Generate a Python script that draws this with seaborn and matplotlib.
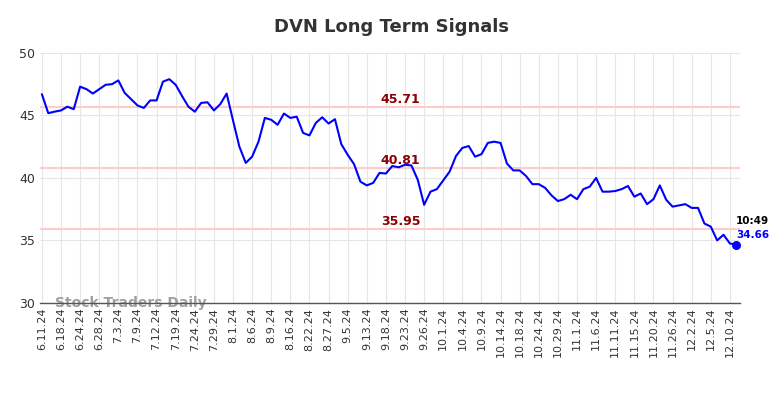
import matplotlib
matplotlib.use("Agg")
import matplotlib.pyplot as plt
import seaborn as sns
import pandas as pd
import numpy as np

prices = [46.7, 45.18, 45.3, 45.4, 45.7, 45.5, 47.3, 47.1, 46.75, 47.1,
          47.45, 47.5, 47.8, 46.8, 46.3, 45.8, 45.6, 46.2, 46.2, 47.7,
          47.9, 47.45, 46.55, 45.7, 45.3, 46.0, 46.05, 45.4, 45.9, 46.75,
          44.6, 42.5, 41.2, 41.7, 42.9, 44.8, 44.65, 44.25, 45.15, 44.8,
          44.9, 43.6, 43.4, 44.4, 44.85, 44.35, 44.7, 42.7, 41.85, 41.1,
          39.7, 39.4, 39.6, 40.4, 40.35, 40.95, 40.85, 41.05, 41.0, 39.85,
          37.85, 38.9, 39.1, 39.8, 40.5, 41.75, 42.4, 42.55, 41.7, 41.9,
          42.8, 42.9, 42.8, 41.15, 40.6, 40.6, 40.15, 39.5, 39.5, 39.2,
          38.6, 38.15, 38.3, 38.65, 38.3, 39.1, 39.3, 40.0, 38.9, 38.9,
          38.95, 39.1, 39.35, 38.5, 38.75, 37.9, 38.3, 39.4, 38.25, 37.7,
          37.8, 37.9, 37.6, 37.6, 36.35, 36.1, 35.0, 35.45, 34.75, 34.66]

tick_labels = ["6.11.24", "6.18.24", "6.24.24", "6.28.24", "7.3.24", "7.9.24",
               "7.12.24", "7.19.24", "7.24.24", "7.29.24", "8.1.24", "8.6.24",
               "8.9.24", "8.16.24", "8.22.24", "8.27.24", "9.5.24", "9.13.24",
               "9.18.24", "9.23.24", "9.26.24", "10.1.24", "10.4.24", "10.9.24",
               "10.14.24", "10.18.24", "10.24.24", "10.29.24", "11.1.24", "11.6.24",
               "11.11.24", "11.15.24", "11.20.24", "11.26.24", "12.2.24", "12.5.24",
               "12.10.24"]

levels = [45.71, 40.81, 35.95]
last_time = "10:49"
last_price = 34.66

df = pd.DataFrame({"idx": np.arange(len(prices)), "price": prices})

sns.set_style("whitegrid", {"grid.color": "#e6e6e6", "axes.edgecolor": "#e6e6e6"})
plt.rcParams['font.family'] = ['DejaVu Sans']

fig = plt.figure(figsize=(7.84, 3.98), dpi=100)
ax = fig.add_axes([0.051, 0.239, 0.893, 0.628])

for lv in levels:
    ax.axhline(lv, color="#ffcccc", lw=1.5, zorder=1)

sns.lineplot(data=df, x="idx", y="price", ax=ax, color="#0000ff", lw=1.5, zorder=3)
ax.scatter([len(prices) - 1], [last_price], color="#0000ff", s=30, zorder=4)

for lv in levels:
    ax.text(56.3, lv + 0.08, f"{lv:.2f}", color="#8b0000", fontsize=9,
            fontweight="bold", ha="center", va="bottom", zorder=5)

ax.text(len(prices) - 1, last_price + 1.5, last_time, color="black", fontsize=7.5,
        fontweight="bold", ha="left", va="bottom")
ax.text(len(prices) - 1, last_price + 0.35, f"{last_price:.2f}", color="#0000ff",
        fontsize=7.5, fontweight="bold", ha="left", va="bottom")

ax.text(2, 30.0, "Stock Traders Daily", color="#a0a0a0", fontsize=10,
        fontweight="bold", ha="left", va="center", zorder=2)

ax.set_xlim(-0.3, 109.6)
ax.set_ylim(30, 50)
ax.set_yticks([30, 35, 40, 45, 50])
ax.set_xticks(np.arange(0, len(tick_labels) * 3, 3))
ax.set_xticklabels(tick_labels, rotation=90, fontsize=8)
ax.tick_params(axis="y", labelsize=9, colors="#333333", length=0)
ax.tick_params(axis="x", colors="#333333", length=0)
ax.set_xlabel("")
ax.set_ylabel("")
for s in ["top", "right", "left"]:
    ax.spines[s].set_visible(False)
ax.spines["bottom"].set_color("#555555")
ax.spines["bottom"].set_linewidth(1)

fig.suptitle("DVN Long Term Signals", fontsize=13, fontweight="bold", color="#333333",
             x=0.5, y=0.955)

fig.savefig("out.png", dpi=100)
